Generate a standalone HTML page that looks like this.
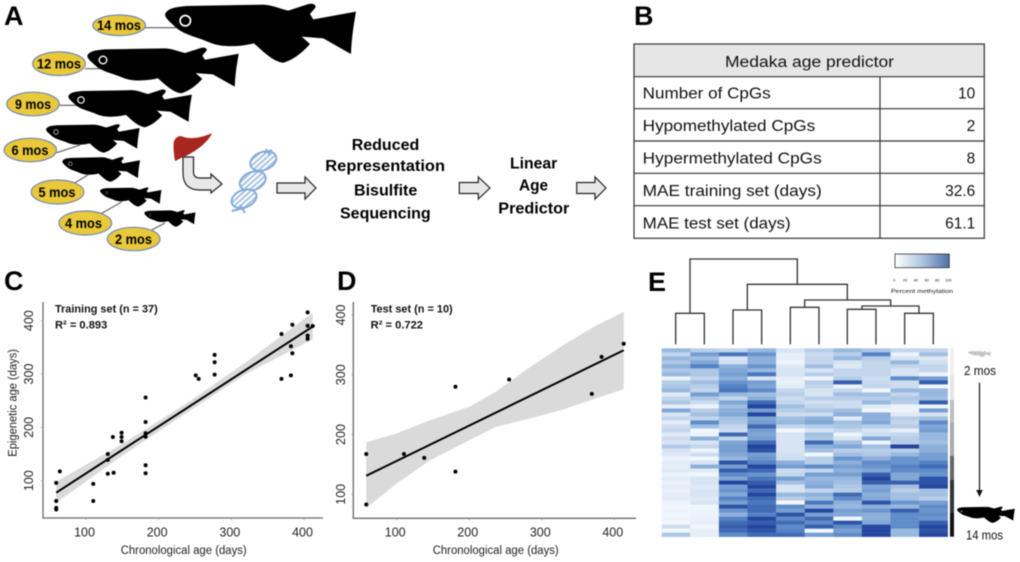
<!DOCTYPE html>
<html lang="en">
<head>
<meta charset="utf-8">
<title>Medaka epigenetic age predictor</title>
<style>
html,body{margin:0;padding:0;background:#fff;width:1020px;height:562px;overflow:hidden}
svg{display:block;filter:blur(0.45px)}
text{font-family:"Liberation Sans",sans-serif;fill:#111}
.letter{font-weight:700;font-size:27px;fill:#000}
.mos{font-weight:700;font-size:14px;fill:#000}
.step{font-weight:700;font-size:16px;fill:#000}
.cell{font-size:15.5px;fill:#111}
.note{font-weight:700;font-size:11px;fill:#111}
.tick{font-size:12.5px;fill:#222}
.title{font-size:11.5px;fill:#222}
.age{font-size:13px;fill:#111}
</style>
</head>
<body>
<svg id="figure" xmlns="http://www.w3.org/2000/svg" width="1020" height="562" viewBox="0 0 1020 562">
<defs>
<path id="fish" d="M45,42 C55,25 70,22 110,18 L340,14 C370,16 395,28 415,32 L470,14 C485,8 498,12 497,22 L480,42 L490,58 L618,35 C612,70 605,110 603,162 L590,155 L520,115 L455,110 L480,132 C460,155 430,180 400,188 C370,185 340,155 312,130 C280,138 220,145 180,128 C140,110 100,105 75,80 C60,65 45,55 45,42 Z"/>
<pattern id="hatch" width="4" height="4" patternUnits="userSpaceOnUse" patternTransform="rotate(-20)">
<rect width="4" height="4" fill="#fff"/><rect width="4" height="2" fill="#a9c4e3"/>
</pattern>
<linearGradient id="legend-gradient" x1="0" x2="1" y1="0" y2="0">
<stop offset="0" stop-color="#ffffff"/><stop offset="0.5" stop-color="#aec5e0"/><stop offset="1" stop-color="#4f6fa8"/>
</linearGradient>
</defs>

<text class="letter" x="4" y="25">A</text>
<text class="letter" x="634" y="25">B</text>
<text class="letter" x="4" y="290">C</text>
<text class="letter" x="337" y="290">D</text>
<text class="letter" x="648" y="291">E</text>

<g id="panel-a">
<g stroke="#5a5a5a" stroke-width="1.1">
<line x1="145" y1="27.7" x2="176" y2="27.7"/><line x1="85" y1="68.7" x2="100" y2="68.7"/><line x1="59" y1="105.3" x2="76" y2="105.3"/><line x1="56.7" y1="152.7" x2="80" y2="145"/><line x1="75" y1="182.7" x2="88" y2="175"/><line x1="101.7" y1="213.3" x2="122" y2="201.7"/><line x1="151.7" y1="230" x2="165" y2="223"/>
</g>
<g fill="#000">
<use href="#fish" transform="translate(165,3.3) scale(0.3333,0.3337) translate(-45,-10)"/>
<use href="#fish" transform="translate(87.3,47.3) scale(0.2643,0.2584) translate(-45,-10)"/>
<use href="#fish" transform="translate(68.3,89.3) scale(0.2157,0.2135) translate(-45,-10)"/>
<use href="#fish" transform="translate(46,124) scale(0.1635,0.161) translate(-45,-10)"/>
<use href="#fish" transform="translate(62.3,156.7) scale(0.1357,0.1405) translate(-45,-10)"/>
<use href="#fish" transform="translate(100,187.3) scale(0.1073,0.1084) translate(-45,-10)"/>
<use href="#fish" transform="translate(144.3,210) scale(0.0894,0.0938) translate(-45,-10)"/>
</g>
<g>
<circle cx="185.3" cy="20.7" r="5.2" fill="#000" stroke="#fff" stroke-width="1.7"/>
<circle cx="103" cy="60" r="3.8" fill="#000" stroke="#fff" stroke-width="1.4"/>
<circle cx="81" cy="100" r="3.2" fill="#000" stroke="#fff" stroke-width="1.2"/>
<circle cx="56" cy="132" r="2.3" fill="#000" stroke="#ccc" stroke-width="0.8"/>
<circle cx="70.3" cy="163.7" r="1.8" fill="#000" stroke="#aaa" stroke-width="0.7"/>
<circle cx="106.7" cy="192.7" r="1.2" fill="#000" stroke="#777" stroke-width="0.5"/>
<circle cx="150" cy="215.3" r="1" fill="#000" stroke="#666" stroke-width="0.5"/>
</g>
<g fill="#e9c93a" stroke="#6f88b6" stroke-width="1.2">
<ellipse cx="119.2" cy="25.3" rx="26.3" ry="10.3"/>
<ellipse cx="59" cy="63.7" rx="26.3" ry="11.8"/>
<ellipse cx="33" cy="104" rx="26.2" ry="11.8"/>
<ellipse cx="30.3" cy="150" rx="26.2" ry="11.8"/>
<ellipse cx="57.5" cy="192" rx="26.3" ry="12"/>
<ellipse cx="85.3" cy="223" rx="26.3" ry="12"/>
<ellipse cx="133.7" cy="239" rx="26.3" ry="11.7"/>
</g>
<text class="mos" x="97" y="30" textLength="44" lengthAdjust="spacingAndGlyphs">14 mos</text>
<text class="mos" x="37" y="68.5" textLength="44" lengthAdjust="spacingAndGlyphs">12 mos</text>
<text class="mos" x="15" y="109" textLength="36" lengthAdjust="spacingAndGlyphs">9 mos</text>
<text class="mos" x="11.5" y="155" textLength="37" lengthAdjust="spacingAndGlyphs">6 mos</text>
<text class="mos" x="38.5" y="197" textLength="37" lengthAdjust="spacingAndGlyphs">5 mos</text>
<text class="mos" x="65" y="228" textLength="37" lengthAdjust="spacingAndGlyphs">4 mos</text>
<text class="mos" x="115" y="244" textLength="37" lengthAdjust="spacingAndGlyphs">2 mos</text>

<path d="M183,157 L183,173 Q183,190 200,190 L211,190 L211,193 L222,184 L211,174 L211,178 L200,178 Q193.5,178 193.5,172 L193.5,157 Z" fill="#e8e8e8" stroke="#222" stroke-width="1.2"/>
<path d="M173.7,141.7 Q176,136 181,136 C190,140 200,138 212,133.3 C208,142 198,150 186,156 C180,158 178,160 175,161 Q173,150 173.7,141.7Z" fill="#a8261f"/>
<g stroke="#86acd9" stroke-width="2" fill="url(#hatch)">
<ellipse cx="263.3" cy="161" rx="13.5" ry="9" transform="rotate(-22 263.3 161)"/>
<ellipse cx="252.7" cy="181" rx="13.5" ry="9" transform="rotate(-22 252.7 181)"/>
<ellipse cx="244" cy="198.7" rx="13" ry="8.6" transform="rotate(-22 244 198.7)"/>
<line x1="231.7" y1="211" x2="246" y2="207.5"/><line x1="240" y1="205" x2="245" y2="213"/><line x1="264" y1="153" x2="272" y2="150"/><line x1="266" y1="149" x2="270" y2="155"/>
</g>
<g fill="#e8e8e8" stroke="#222" stroke-width="1.2">
<path d="M277,183 L305,183 L305,177 L316,188 L305,199 L305,193 L277,193 Z"/>
<path d="M459.3,182.5 L478.3,182.5 L478.3,177 L490,188 L478.3,199 L478.3,193.5 L459.3,193.5 Z"/>
<path d="M576.7,182.5 L595,182.5 L595,177 L606,188 L595,199 L595,193.5 L576.7,193.5 Z"/>
</g>
<text class="step" x="351.7" y="150" textLength="67.6" lengthAdjust="spacingAndGlyphs">Reduced</text>
<text class="step" x="325.3" y="171" textLength="119.7" lengthAdjust="spacingAndGlyphs">Representation</text>
<text class="step" x="354" y="195.7" textLength="63.3" lengthAdjust="spacingAndGlyphs">Bisulfite</text>
<text class="step" x="340" y="218.3" textLength="90.7" lengthAdjust="spacingAndGlyphs">Sequencing</text>
<text class="step" x="510" y="168.3" textLength="47.3" lengthAdjust="spacingAndGlyphs">Linear</text>
<text class="step" x="519" y="190.7" textLength="29" lengthAdjust="spacingAndGlyphs">Age</text>
<text class="step" x="498.3" y="213.3" textLength="71" lengthAdjust="spacingAndGlyphs">Predictor</text>
</g>

<g id="panel-b">
<rect x="634" y="44" width="350.3" height="32.7" fill="#e6e6e6"/>
<g stroke="#333" stroke-width="1.2" fill="none">
<rect x="634" y="44" width="350.3" height="194.3"/>
<line x1="634" x2="984.3" y1="76.7" y2="76.7"/><line x1="634" x2="984.3" y1="108.7" y2="108.7"/><line x1="634" x2="984.3" y1="141" y2="141"/><line x1="634" x2="984.3" y1="173.3" y2="173.3"/><line x1="634" x2="984.3" y1="205.7" y2="205.7"/>
<line x1="880" x2="880" y1="76.7" y2="238.3"/>
</g>
<text class="cell" x="725" y="67" textLength="169" lengthAdjust="spacingAndGlyphs">Medaka age predictor</text>
<text class="cell" x="642.7" y="98.5" textLength="128" lengthAdjust="spacingAndGlyphs">Number of CpGs</text>
<text class="cell" x="642.7" y="131" textLength="172.5" lengthAdjust="spacingAndGlyphs">Hypomethylated CpGs</text>
<text class="cell" x="642.7" y="163.5" textLength="179" lengthAdjust="spacingAndGlyphs">Hypermethylated CpGs</text>
<text class="cell" x="642.7" y="196" textLength="179" lengthAdjust="spacingAndGlyphs">MAE training set (days)</text>
<text class="cell" x="642.7" y="228.5" textLength="148" lengthAdjust="spacingAndGlyphs">MAE test set (days)</text>
<text class="cell" x="975.3" y="98.5" text-anchor="end">10</text>
<text class="cell" x="975.3" y="131" text-anchor="end">2</text>
<text class="cell" x="975.3" y="163.5" text-anchor="end">8</text>
<text class="cell" x="975.3" y="196" text-anchor="end">32.6</text>
<text class="cell" x="975.3" y="228.5" text-anchor="end">61.1</text>
</g>

<g id="panel-c">
<text class="note" x="55" y="312.7" textLength="102.7" lengthAdjust="spacingAndGlyphs">Training set (n = 37)</text>
<text class="note" x="55" y="328.7" textLength="52.3" lengthAdjust="spacingAndGlyphs">R² = 0.893</text>
<text class="title" x="120.7" y="554" textLength="126" lengthAdjust="spacingAndGlyphs">Chronological age (days)</text>
<text class="title" transform="translate(16.5,456.7) rotate(-90)" textLength="107.7" lengthAdjust="spacingAndGlyphs">Epigenetic age (days)</text>
</g>
<g id="panel-d">
<text class="note" x="370.7" y="312.7" textLength="82" lengthAdjust="spacingAndGlyphs">Test set (n = 10)</text>
<text class="note" x="370.7" y="328.7" textLength="52.3" lengthAdjust="spacingAndGlyphs">R² = 0.722</text>
<text class="title" x="432.7" y="554" textLength="126" lengthAdjust="spacingAndGlyphs">Chronological age (days)</text>
</g>

<g id="panel-e">
<g id="dendrogram" fill="none" stroke="#333" transform="translate(650,250) scale(0.3333)">
<path stroke-width="4" d="M77,283V190H163V283M249,283V180H335V283M421,283V172H507V283M592,283V178H678V283M764,283V190H850V283M120,190V27H442V103M292,180V103H592V150M464,172V150H722V168M636,178V168H807V190"/>
</g>
<g id="heatmap" style="filter:blur(0.3px)"></g>
<g>
<rect x="950" y="348.3" width="4" height="26.7" fill="#f0f0f0"/><rect x="950" y="375" width="4" height="25" fill="#e4e4e4"/><rect x="950" y="400" width="4" height="23" fill="#bdbdbd"/><rect x="950" y="423" width="4" height="33" fill="#a9a9a9"/><rect x="950" y="456" width="4" height="24" fill="#666"/><rect x="950" y="480" width="4" height="33" fill="#333"/><rect x="950" y="513" width="4" height="23.7" fill="#111"/>
</g>
<g>
<rect x="895" y="254" width="54.3" height="13.7" fill="url(#legend-gradient)" stroke="#333" stroke-width="0.8"/>
<g font-size="3.6" text-anchor="middle">
<text x="894.3" y="281.5" style="font-size:3.8px">0</text>
<text x="905" y="281.5" style="font-size:3.8px">20</text>
<text x="915.7" y="281.5" style="font-size:3.8px">40</text>
<text x="926.7" y="281.5" style="font-size:3.8px">60</text>
<text x="937.3" y="281.5" style="font-size:3.8px">80</text>
<text x="948.3" y="281.5" style="font-size:3.8px">100</text>
</g>
<text x="891" y="293" style="font-size:5.8px" textLength="62" lengthAdjust="spacingAndGlyphs">Percent methylation</text>
</g>
<use href="#fish" fill="#c4c4c4" transform="translate(968,351) scale(0.04,0.034) translate(-45,-10)"/>
<use href="#fish" fill="#000" transform="translate(957,506.5) scale(0.101,0.092) translate(-45,-10)"/>
<circle cx="961.5" cy="511.5" r="0.9" fill="#999"/>
<text class="age" x="964" y="375" textLength="32" lengthAdjust="spacingAndGlyphs">2 mos</text>
<text class="age" x="966" y="539.5" textLength="37" lengthAdjust="spacingAndGlyphs">14 mos</text>
<line x1="979.5" y1="382.7" x2="979.5" y2="491" stroke="#111" stroke-width="1.2"/>
<path d="M976.2,490 H982.8 L979.5,497 Z" fill="#111"/>
</g>
</svg>

<script>
const xTickValues = [100, 200, 300, 400];
const yTickValues = [100, 200, 300, 400];

const trainAge = [59,64,59,59,59,110,110,130,130,130,138,137,149,149,149,182,182,182,182,182,182,251,255,277,277,277,369,369,382,382,384,384,405,405,405,405,412];
const trainPredicted = [96,117.5,62,49,46,94,62,150,139,113,115,182,190,182,174,256,210,189,182.5,129,114,297.5,291,336,322,299,375,291,352,297.5,392.5,339,415.5,390.5,372,366,390];
const trainFitAge = [59, 412];
const trainFitPredicted = [77.5, 389];
const trainBandAge = [59, 150, 235, 320, 412];
const trainBandUpper = [98, 169, 242, 322, 415];
const trainBandLower = [59, 147, 224, 300, 365];

const testAge = [58,58,110,138,181,181,255,369,382.5,413];
const testPredicted = [167.5,83,167.5,161,280,138,292,268,330,352];
const testFitAge = [58, 413];
const testFitPredicted = [131, 341];
const testBandAge = [58, 100, 146, 201, 237, 284, 330, 376, 413];
const testBandUpper = [187, 202, 224, 247, 272, 313, 350, 383, 405];
const testBandLower = [77, 118, 157, 191, 213, 227, 242, 261, 276];

const methylationSample1 = [45,25,45,35,50,35,45,5,30,35,45,10,25,35,8,55,15,25,10,20,25,12,20,15,33,15,12,5,10,8,12,5,10,6,10,6,8,10,5,3,4,3,4,3,20,2,35];
const methylationSample2 = [30,60,40,55,75,35,35,25,40,30,25,60,35,20,5,30,40,25,70,40,3,5,50,15,25,5,20,3,15,50,10,3,15,15,12,15,15,12,15,3,5,5,6,8,3,8,8];
const methylationSample3 = [25,80,15,18,50,55,60,50,65,75,80,45,25,55,40,50,55,40,35,25,20,85,25,55,60,60,55,45,95,60,90,70,55,100,60,65,55,75,60,95,65,50,75,85,90,85,70];
const methylationSample4 = [45,65,50,50,65,45,80,15,60,55,70,40,50,85,100,60,100,55,60,85,60,55,60,85,100,95,60,65,75,100,85,65,80,90,100,85,100,85,80,85,85,75,100,90,100,95,85];
const methylationSample5 = [15,8,8,4,12,15,15,8,6,10,25,30,20,25,40,30,20,40,45,25,2,15,15,15,15,15,18,20,50,60,20,25,60,40,15,15,45,30,2,70,60,95,70,85,70,75,85];
const methylationSample6 = [30,20,25,25,40,15,30,3,30,25,15,15,30,18,25,35,20,50,55,30,15,40,35,85,50,40,3,30,30,70,25,60,45,50,55,25,50,40,80,50,100,60,85,70,90,3,60];
const methylationSample7 = [45,30,45,15,12,25,25,30,90,5,25,40,30,20,20,40,50,10,40,35,25,5,15,40,55,30,40,65,50,60,50,60,45,40,35,30,85,70,50,45,60,55,3,95,70,60,70];
const methylationSample8 = [35,75,30,25,25,25,25,20,22,25,2,40,30,45,12,3,50,50,55,30,15,20,55,3,40,30,35,50,70,65,55,90,100,90,55,60,50,55,95,50,65,50,50,55,100,100,100];
const methylationSample9 = [25,5,15,45,25,15,15,70,20,20,45,25,35,30,5,5,12,30,25,30,8,25,30,30,100,30,45,65,65,75,70,55,55,90,40,30,40,40,65,45,90,70,70,70,70,45,45];
const methylationSample10 = [25,40,12,18,25,25,5,60,90,3,45,45,40,90,5,60,15,40,70,55,60,45,45,40,50,50,60,60,75,85,70,65,95,95,100,40,40,30,60,70,65,70,65,90,100,95,100];
const methylationSamples = [methylationSample1,methylationSample2,methylationSample3,methylationSample4,methylationSample5,methylationSample6,methylationSample7,methylationSample8,methylationSample9,methylationSample10];

const NS = 'http://www.w3.org/2000/svg';

function make(tag, parent, attrs) {
  const el = document.createElementNS(NS, tag);
  for (const k in attrs) el.setAttribute(k, attrs[k]);
  parent.appendChild(el);
  return el;
}

function linear(domainA, domainB, rangeA, rangeB) {
  return function (v) { return rangeA + (v - domainA) * (rangeB - rangeA) / (domainB - domainA); };
}

function drawScatter(cfg) {
  const g = document.getElementById(cfg.group);
  const x = cfg.x;
  const y = cfg.y;

  let pts = '';
  cfg.bandAge.forEach(function (a, i) { pts += x(a) + ',' + y(cfg.bandUpper[i]) + ' '; });
  for (let i = cfg.bandAge.length - 1; i >= 0; i--) { pts += x(cfg.bandAge[i]) + ',' + y(cfg.bandLower[i]) + ' '; }
  const band = make('polygon', g, { points: pts, fill: '#dadada' });
  
  

  const axes = make('path', g, { d: 'M' + cfg.left + ',' + cfg.top + 'V' + cfg.bottom + 'H' + cfg.right, fill: 'none', stroke: '#6a6a6a', 'stroke-width': 1.3 });
  
  

  xTickValues.forEach(function (t) {
    const mark = make('line', g, { x1: x(t), x2: x(t), y1: cfg.bottom, y2: cfg.bottom + 2, stroke: '#999', 'stroke-width': 0.8 });
    
    
    const label = make('text', g, { x: x(t) - 1.5, y: 536.7, 'text-anchor': 'middle', class: 'tick' });
    label.textContent = t;
    
    
  });

  yTickValues.forEach(function (t) {
    const mark = make('line', g, { x1: cfg.left - 2, x2: cfg.left, y1: y(t), y2: y(t), stroke: '#999', 'stroke-width': 0.8 });
    
    
    const label = make('text', g, { transform: 'translate(' + cfg.yLabelX + ',' + y(t) + ') rotate(-90)', 'text-anchor': 'middle', class: 'tick' });
    label.textContent = t;
    
    
  });

  cfg.age.forEach(function (a, i) {
    const dot = make('circle', g, { cx: x(a), cy: y(cfg.predicted[i]), r: 2, fill: '#000' });
    
    
  });

  const fit = make('line', g, { x1: x(cfg.fitAge[0]), y1: y(cfg.fitPredicted[0]), x2: x(cfg.fitAge[1]), y2: y(cfg.fitPredicted[1]), stroke: '#000', 'stroke-width': 2 });
  
  
}

drawScatter({
  group: 'panel-c',
  x: linear(100, 400, 86, 304),
  y: linear(100, 400, 480.7, 320.7),
  left: 43, top: 302, bottom: 518, right: 323, yLabelX: 33,
  age: trainAge, predicted: trainPredicted,
  fitAge: trainFitAge, fitPredicted: trainFitPredicted,
  bandAge: trainBandAge, bandUpper: trainBandUpper, bandLower: trainBandLower
});

drawScatter({
  group: 'panel-d',
  x: linear(100, 400, 396.7, 614.3),
  y: linear(100, 400, 494.3, 315),
  left: 353.3, top: 302, bottom: 518.3, right: 636, yLabelX: 345,
  age: testAge, predicted: testPredicted,
  fitAge: testFitAge, fitPredicted: testFitPredicted,
  bandAge: testBandAge, bandUpper: testBandUpper, bandLower: testBandLower
});

const colorStops = [[0,[246,250,254]],[25,[195,214,236]],[50,[140,176,218]],[75,[84,130,196]],[100,[36,70,158]]];

function heatColor(v) {
  for (let i = 1; i < colorStops.length; i++) {
    if (v <= colorStops[i][0]) {
      const a = colorStops[i - 1];
      const b = colorStops[i];
      const t = (v - a[0]) / (b[0] - a[0]);
      return 'rgb(' + [0, 1, 2].map(function (c) { return Math.round(a[1][c] + (b[1][c] - a[1][c]) * t); }).join(',') + ')';
    }
  }
  return 'rgb(36,70,158)';
}

const heatLeft = 661.7, heatRight = 947.7, heatTop = 348.3, heatBottom = 536.7;
const heatGroup = document.getElementById('heatmap');
const cellW = (heatRight - heatLeft) / methylationSamples.length;
methylationSamples.forEach(function (column, c) {
  const cellH = (heatBottom - heatTop) / column.length;
  column.forEach(function (v, r) {
    const cell = make('rect', heatGroup, { x: heatLeft + c * cellW, y: heatTop + r * cellH, width: cellW + 0.2, height: cellH + 0.2, fill: heatColor(v) });
    
    
  });
});
</script>
</body>
</html>
